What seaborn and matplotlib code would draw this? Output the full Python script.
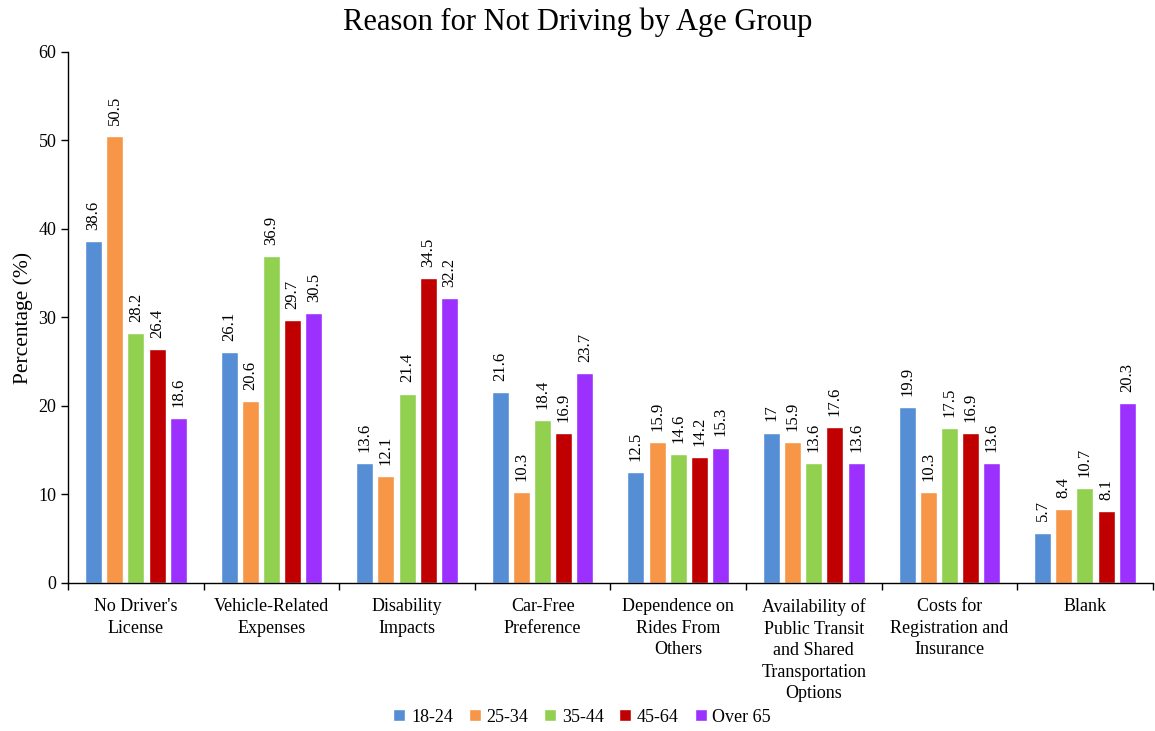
import matplotlib
matplotlib.use("Agg")
import matplotlib.pyplot as plt
import seaborn as sns
import pandas as pd
from matplotlib.ticker import FixedLocator
from matplotlib.lines import Line2D

categories = [
    "No Driver's\nLicense",
    "Vehicle-Related\nExpenses",
    "Disability\nImpacts",
    "Car-Free\nPreference",
    "Dependence on\nRides From\nOthers",
    "Availability of\nPublic Transit\nand Shared\nTransportation\nOptions",
    "Costs for\nRegistration and\nInsurance",
    "Blank",
]
age_groups = ["18-24", "25-34", "35-44", "45-64", "Over 65"]
v_18_24 = [38.6, 26.1, 13.6, 21.6, 12.5, 17, 19.9, 5.7]
v_25_34 = [50.5, 20.6, 12.1, 10.3, 15.9, 15.9, 10.3, 8.4]
v_35_44 = [28.2, 36.9, 21.4, 18.4, 14.6, 13.6, 17.5, 10.7]
v_45_64 = [26.4, 29.7, 34.5, 16.9, 14.2, 17.6, 16.9, 8.1]
v_over65 = [18.6, 30.5, 32.2, 23.7, 15.3, 13.6, 13.6, 20.3]
colors = ["#558ED5", "#F79646", "#92D050", "#C00000", "#9B30FF"]

series = [v_18_24, v_25_34, v_35_44, v_45_64, v_over65]
rows = []
for g, vals in zip(age_groups, series):
    for c, v in zip(categories, vals):
        rows.append({"Reason": c, "Age": g, "Value": v})
df = pd.DataFrame(rows)

sns.set_style("white")
plt.rcParams["font.family"] = ["Liberation Serif", "DejaVu Serif"]
plt.rcParams["text.color"] = "black"
plt.rcParams["axes.labelcolor"] = "black"
plt.rcParams["xtick.color"] = "black"
plt.rcParams["ytick.color"] = "black"

fig = plt.figure(figsize=(11.55, 7.31), dpi=100)
ax = fig.add_axes([0.059, 0.2025, 0.939, 0.7264])

sns.barplot(data=df, x="Reason", y="Value", hue="Age", order=categories,
            hue_order=age_groups, palette=colors, width=0.78, gap=0.2,
            ax=ax, legend=False, errorbar=None, saturation=1)

for container in ax.containers:
    for bar in container:
        h = bar.get_height()
        ax.annotate(f"{h:g}", (bar.get_x() + bar.get_width() / 2, h),
                    xytext=(0, 8), textcoords="offset points",
                    rotation=90, ha="center", va="bottom", fontsize=12)

ax.set_xlim(-0.5, len(categories) - 0.5)
ax.set_ylim(0, 60)
ax.set_yticks(range(0, 61, 10))
ax.tick_params(axis="y", labelsize=13, length=5, direction="out", left=True, width=1)
ax.xaxis.set_minor_locator(FixedLocator([i - 0.5 for i in range(len(categories) + 1)]))
ax.tick_params(axis="x", which="major", length=0, pad=11, labelsize=13)
ax.tick_params(axis="x", which="minor", length=5, direction="out", bottom=True, width=1)
for lbl in ax.get_xticklabels():
    lbl.set_linespacing(1.35)
    lbl.set_va("top")

ax.set_xlabel("")
ax.set_ylabel("Percentage (%)", fontsize=15.5, labelpad=4)
for s in ["top", "right"]:
    ax.spines[s].set_visible(False)
for s in ["left", "bottom"]:
    ax.spines[s].set_color("black")
    ax.spines[s].set_linewidth(1)

fig.text(0.5, 0.97, "Reason for Not Driving by Age Group", ha="center", va="center", fontsize=22)

handles = [Line2D([0], [0], marker="s", color="w", markerfacecolor=c, markersize=9, linestyle="")
           for c in colors]
fig.legend(handles, age_groups, loc="center", bbox_to_anchor=(0.502, 0.019), ncol=5,
           frameon=False, fontsize=13, handletextpad=0.05, columnspacing=0.6,
           handlelength=1.2)

fig.savefig("out.png", dpi=100)
